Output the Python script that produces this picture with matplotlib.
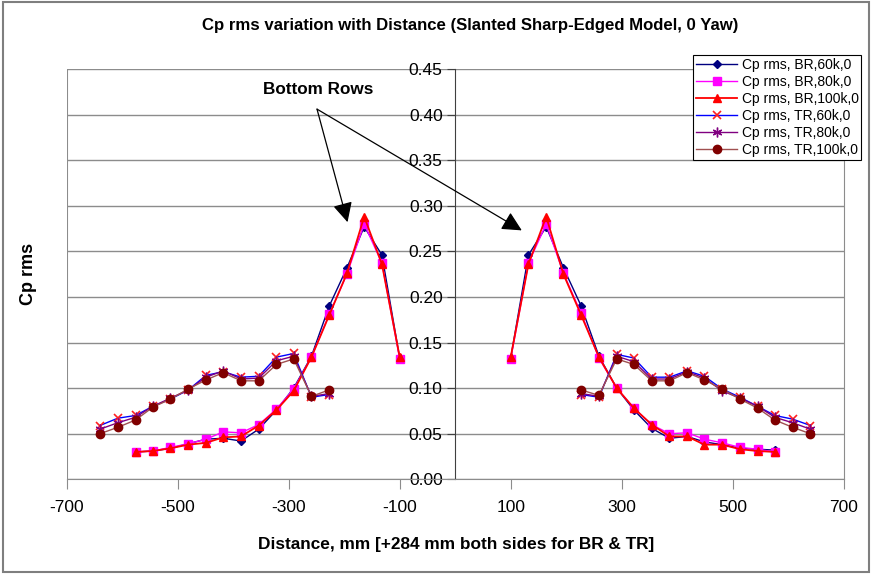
import numpy as np
import matplotlib
matplotlib.use('Agg')
import matplotlib.pyplot as plt
from matplotlib.patches import Rectangle

plt.rcParams['font.family'] = ['Liberation Sans', 'DejaVu Sans']
plt.rcParams['axes.unicode_minus'] = False

# distances (mm) from centre, same on both sides
dist_br = [100, 132, 164, 195, 227, 259, 291, 322, 354, 386, 418, 449, 481, 513, 545, 576]
dist_tr = [227, 259, 291, 322, 354, 386, 418, 449, 481, 513, 545, 576, 608, 640]

# Cp rms, listed from the centre outwards
br60_left = [0.133, 0.246, 0.277, 0.232, 0.190, 0.135, 0.100, 0.076, 0.055, 0.042, 0.045, 0.044, 0.039, 0.034, 0.031, 0.030]
br60_right = [0.133, 0.246, 0.277, 0.232, 0.190, 0.135, 0.100, 0.076, 0.056, 0.045, 0.047, 0.041, 0.038, 0.034, 0.033, 0.032]
br80_left = [0.132, 0.237, 0.280, 0.225, 0.181, 0.134, 0.099, 0.077, 0.060, 0.051, 0.052, 0.044, 0.039, 0.035, 0.031, 0.030]
br80_right = [0.132, 0.237, 0.280, 0.226, 0.182, 0.133, 0.100, 0.078, 0.060, 0.050, 0.051, 0.044, 0.040, 0.035, 0.033, 0.030]
br100_left = [0.134, 0.236, 0.288, 0.226, 0.180, 0.134, 0.097, 0.076, 0.059, 0.047, 0.046, 0.040, 0.038, 0.034, 0.031, 0.030]
br100_right = [0.134, 0.236, 0.288, 0.225, 0.180, 0.134, 0.100, 0.078, 0.060, 0.047, 0.047, 0.038, 0.038, 0.033, 0.031, 0.030]

tr60_left = [0.093, 0.090, 0.138, 0.134, 0.113, 0.112, 0.118, 0.114, 0.098, 0.088, 0.080, 0.070, 0.067, 0.059]
tr60_right = [0.093, 0.090, 0.137, 0.133, 0.112, 0.112, 0.119, 0.113, 0.099, 0.090, 0.080, 0.070, 0.066, 0.059]
tr80_left = [0.094, 0.091, 0.135, 0.130, 0.111, 0.110, 0.119, 0.112, 0.098, 0.089, 0.080, 0.068, 0.062, 0.055]
tr80_right = [0.094, 0.091, 0.135, 0.129, 0.110, 0.110, 0.118, 0.111, 0.097, 0.089, 0.080, 0.068, 0.062, 0.055]
tr100_left = [0.098, 0.091, 0.132, 0.126, 0.108, 0.108, 0.117, 0.109, 0.099, 0.088, 0.079, 0.065, 0.057, 0.050]
tr100_right = [0.098, 0.092, 0.132, 0.126, 0.108, 0.108, 0.117, 0.109, 0.099, 0.088, 0.078, 0.065, 0.057, 0.050]

labels = ['Cp rms, BR,60k,0', 'Cp rms, BR,80k,0', 'Cp rms, BR,100k,0',
          'Cp rms, TR,60k,0', 'Cp rms, TR,80k,0', 'Cp rms, TR,100k,0']


def both_sides(dist, left, right):
    x = [-d for d in dist[::-1]] + [np.nan] + list(dist)
    y = list(left[::-1]) + [np.nan] + list(right)
    return x, y


fig = plt.figure(figsize=(8.72, 5.74), dpi=100)
ax = fig.add_axes([66.7 / 872, 1 - 479.3 / 574, (843.7 - 66.7) / 872, (479.3 - 69) / 574])

series = [
    (dist_br, br60_left, br60_right, dict(color='#000080', marker='D', ms=4.5, lw=1)),
    (dist_br, br80_left, br80_right, dict(color='#ff00ff', marker='s', ms=5.5, lw=1)),
    (dist_br, br100_left, br100_right, dict(color='#ff0000', marker='^', ms=6, lw=1.3)),
    (dist_tr, tr60_left, tr60_right, dict(color='#0000ff', marker='x', ms=6, mew=1.2, mec='#ff2020', lw=1)),
    (dist_tr, tr80_left, tr80_right, dict(color='#800080', marker=(6, 2, 0), ms=7, mew=1, lw=1)),
    (dist_tr, tr100_left, tr100_right, dict(color='#a05050', marker='o', ms=6, mfc='#800000', mec='#800000', lw=1)),
]
for (d, l, r, st), lab in zip(series, labels):
    x, y = both_sides(d, l, r)
    ax.plot(x, y, label=lab, **st)

xmin, xmax = -700, 700
ax.set_xlim(xmin, xmax)
ax.set_ylim(0, 0.45)
ax.set_xticks(np.arange(-700, 701, 200))
ax.set_yticks(np.arange(0, 0.451, 0.05))
ax.yaxis.set_major_formatter(matplotlib.ticker.FormatStrFormatter('%.2f'))

# grid lines (0.20 and 0.25 show darker in the original)
ax.grid(axis='y', color='#8c8c8c', lw=1)
for val, gl in zip(ax.get_yticks(), ax.yaxis.get_gridlines()):
    if abs(val - 0.20) < 1e-6 or abs(val - 0.25) < 1e-6:
        gl.set_color('black')
ax.set_axisbelow(True)

# y axis crosses at zero, plot-area frame in grey
ax.spines['left'].set_position(('data', 0))
ax.spines['left'].set_color('#404040')
ax.spines['top'].set_visible(False)
ax.spines['right'].set_color('#8c8c8c')
ax.spines['bottom'].set_color('#8c8c8c')
ax.axvline(xmin, color='#8c8c8c', lw=1.5, zorder=0.5)
ax.tick_params(axis='y', direction='out', length=6, color='#404040', labelsize=12.5, pad=3)
ax.tick_params(axis='x', direction='out', length=7, color='#8c8c8c', labelsize=12.5, pad=8)

fig.text(0.539, 0.955, 'Cp rms variation with Distance (Slanted Sharp-Edged Model, 0 Yaw)',
         ha='center', va='center', fontsize=12.1, fontweight='bold')
fig.text(0.523, 1 - 545 / 574, 'Distance, mm [+284 mm both sides for BR & TR]',
         ha='center', va='center', fontsize=12.4, fontweight='bold')
fig.text(0.033, 1 - 274 / 574, 'Cp rms', rotation=90, ha='center', va='center',
         fontsize=13, fontweight='bold')

# "Bottom Rows" arrows
arrow = dict(arrowstyle='-|>', mutation_scale=30, color='black', lw=0.9, shrinkA=0, shrinkB=0)
ax.text(-247, 0.427, 'Bottom Rows', ha='center', va='center', fontsize=12.3, fontweight='bold')
ax.annotate('', xy=(-194, 0.282), xytext=(-249, 0.406), arrowprops=arrow)
ax.annotate('', xy=(120, 0.273), xytext=(-249, 0.406), arrowprops=arrow)

leg = fig.legend(loc='upper left', bbox_to_anchor=(693 / 872, 1 - 55 / 574),
                 bbox_transform=fig.transFigure, fontsize=10, frameon=True,
                 fancybox=False, edgecolor='black', framealpha=1, handlelength=3.0,
                 borderpad=0.2, labelspacing=0.22, handletextpad=0.3, borderaxespad=0)
leg.get_frame().set_linewidth(0.8)

fig.patches.append(Rectangle((0.004, 0.003), 0.992, 0.994, transform=fig.transFigure,
                             fill=False, edgecolor='#7f7f7f', lw=1.5))

fig.savefig('out.png', dpi=100)
